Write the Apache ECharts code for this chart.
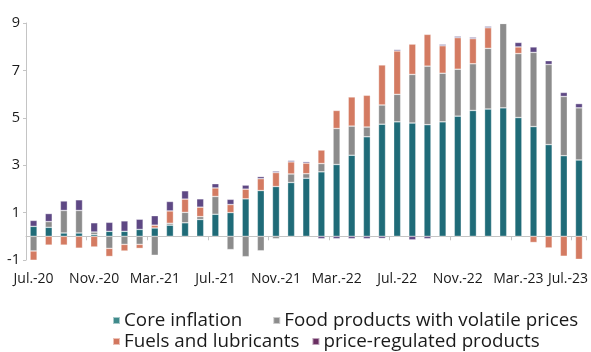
<!DOCTYPE html>
<html>
<head>
<meta charset="utf-8">
<script src="https://cdn.jsdelivr.net/npm/echarts@6/dist/echarts.min.js"></script>
<style>
html,body{margin:0;padding:0;background:#fff;}
#c{width:591px;height:352px;}
</style>
</head>
<body>
<div id="c"></div>
<script>
const months = ['Jul.-20','Aug.-20','Sep.-20','Oct.-20','Nov.-20','Dec.-20','Jan.-21','Feb.-21','Mar.-21','Apr.-21','May.-21','Jun.-21',
  'Jul.-21','Aug.-21','Sep.-21','Oct.-21','Nov.-21','Dec.-21','Jan.-22','Feb.-22','Mar.-22','Apr.-22','May.-22','Jun.-22',
  'Jul.-22','Aug.-22','Sep.-22','Oct.-22','Nov.-22','Dec.-22','Jan.-23','Feb.-23','Mar.-23','Apr.-23','May.-23','Jun.-23','Jul.-23'];

const coreInflation = [0.42,0.38,0.14,0.14,0.07,0.21,0.21,0.29,0.35,0.47,0.57,0.71,
  0.93,1.00,1.58,1.93,2.10,2.27,2.45,2.72,3.03,3.42,4.20,4.73,
  4.83,4.78,4.71,4.83,5.07,5.31,5.37,5.42,5.01,4.63,3.87,3.40,3.22];

const foodVolatile = [-0.62,0.24,0.95,0.95,0.11,-0.51,-0.34,-0.34,-0.80,0.08,0.44,0.12,
  0.75,-0.56,-0.86,-0.61,-0.10,0.36,0.19,0.35,1.52,1.23,0.41,0.81,
  1.16,2.05,2.47,2.05,1.98,1.97,2.56,3.56,2.70,3.13,3.38,2.50,2.20];

const fuelsLubricants = [-0.39,-0.37,-0.37,-0.50,-0.45,-0.34,-0.28,-0.17,0.12,0.52,0.56,0.40,
  0.36,0.34,0.41,0.50,0.59,0.51,0.45,0.57,0.76,1.23,1.34,1.69,
  1.83,1.28,1.34,1.16,1.33,1.06,0.87,0,0.28,-0.26,-0.49,-0.84,-0.97];

const priceRegulated = [0.25,0.34,0.40,0.45,0.39,0.38,0.44,0.43,0.40,0.40,0.35,0.35,
  0.18,0.22,0.17,0.09,0.06,0.06,0.06,-0.10,-0.10,-0.10,-0.10,-0.09,
  0.06,-0.15,-0.10,0.06,0.06,0.06,0.06,0,0.19,0.23,0.16,0.17,0.18];

const seriesNames = ['Core inflation','Food products with volatile prices','Fuels and lubricants','price-regulated products'];
const seriesColors = ['#1f6b78','#8c8c8c','#d47b62','#5e4884'];
const legendColors = ['#3f8a8b','#8c8c8c','#d2765e','#6a2f62'];
const yTicks = [-1,1,3,5,7,9];

const chart = echarts.init(document.getElementById('c'), null, {renderer:'canvas'});
const FONT = "'Open Sans', 'Noto Sans', sans-serif";
const values = [coreInflation, foodVolatile, fuelsLubricants, priceRegulated];

const catData = months.map((m, i) => i === months.length - 1
  ? {value: m, textStyle: {padding: [0, 22, 0, 0]}} : m);

const option = {
  animation: false,
  backgroundColor: '#fff',
  grid: {left: 26, right: 4, top: 23, bottom: 92, containLabel: false},
  legend: [
    {
      data: [0,1].map(i => ({name: seriesNames[i], itemStyle: {color: legendColors[i]}})),
      left: 112, top: 311, padding: 0, itemGap: 30, itemWidth: 7, itemHeight: 7, icon: 'rect',
      textStyle: {fontFamily: FONT, fontSize: 18.8, color: '#1a1a1a', padding: [0,0,0,-1]}
    },
    {
      data: [2,3].map(i => ({name: seriesNames[i], itemStyle: {color: legendColors[i]}})),
      left: 112, top: 332, padding: 0, itemGap: 12, itemWidth: 7, itemHeight: 7, icon: 'rect',
      textStyle: {fontFamily: FONT, fontSize: 18.8, color: '#1a1a1a', padding: [0,0,0,-1]}
    }
  ],
  xAxis: {
    type: 'category',
    data: catData,
    boundaryGap: true,
    axisLine: {show: true, onZero: true, lineStyle: {color: '#c4c4c4', width: 1}},
    axisTick: {show: true, interval: 3, length: 4, lineStyle: {color: '#c4c4c4'}},
    axisLabel: {interval: 3, margin: 12, fontFamily: FONT, fontSize: 14, color: '#1a1a1a'},
    splitLine: {show: false}
  },
  yAxis: {
    type: 'value',
    min: yTicks[0], max: yTicks[yTicks.length - 1], interval: 2,
    axisLine: {show: true, lineStyle: {color: '#c4c4c4', width: 1}},
    axisTick: {show: true, length: 3, lineStyle: {color: '#c4c4c4'}},
    axisLabel: {margin: 6, fontFamily: FONT, fontSize: 14.5, color: '#1a1a1a'},
    splitLine: {show: false}
  },
  series: seriesNames.map((name, i) => ({
    name: name,
    type: 'bar',
    stack: 'total',
    barWidth: 7,
    data: values[i],
    itemStyle: {color: seriesColors[i], borderColor: 'rgba(255,255,255,0.55)', borderWidth: 0.6}
  }))
};
chart.setOption(option);
</script>
</body>
</html>
